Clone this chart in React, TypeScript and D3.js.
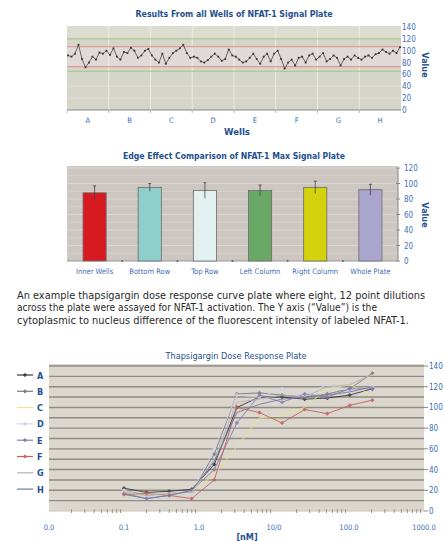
import React from "react";
import * as d3 from "d3";

// ---------- Data ----------
const wellGroups = ["A", "B", "C", "D", "E", "F", "G", "H"];
const wellValues = [
  92, 90, 95, 110, 86, 72, 80, 90, 85, 97, 95, 100,
  93, 104, 90, 85, 98, 96, 105, 100, 88, 92, 100, 103,
  92, 85, 80, 95, 78, 88, 96, 100, 104, 110, 96, 88,
  90, 88, 82, 80, 84, 90, 95, 90, 83, 86, 102, 92,
  90, 85, 80, 82, 88, 95, 86, 78, 90, 95, 82, 95,
  100, 86, 70, 80, 85, 75, 88, 90, 80, 92, 95, 85,
  90, 96, 82, 86, 92, 88, 75, 86, 90, 85, 92, 88,
  85, 90, 92, 88, 94, 96, 102, 98, 95, 100, 96, 106,
];
const topTicks = [0, 20, 40, 60, 80, 100, 120, 140];

const edgeCategories = ["Inner Wells", "Bottom Row", "Top Row", "Left Column", "Right Column", "Whole Plate"];
const edgeMeans = [88, 95, 91, 91, 95, 92];
const edgeErrors = [9, 5, 10, 7, 8, 7];
const edgeTicks = [0, 20, 40, 60, 80, 100, 120];

const doses = [0.1, 0.2, 0.4, 0.8, 1.6, 3.2, 6.4, 12.8, 25.6, 51.2, 102.4, 204.8];
const seriesNames = ["A", "B", "C", "D", "E", "F", "G", "H"];
const seriesA = [22, 18, 19, 21, 45, 100, 110, 110, 108, 109, 112, 118];
const seriesB = [20, 15, 17, 18, 55, 113, 114, 112, 110, 113, 118, 133];
const seriesC = [18, 16, 17, 19, 35, 62, 90, 92, 100, 118, 122, 112];
const seriesD = [20, 14, 16, 17, 60, 112, 110, 118, 112, 122, 116, 120];
const seriesE = [17, 12, 15, 20, 40, 85, 112, 105, 113, 110, 118, 118];
const seriesF = [16, 17, 15, 12, 30, 100, 95, 85, 98, 94, 102, 107];
const seriesG = [18, 15, 17, 18, 50, 105, 108, 112, 110, 120, 122, 132];
const seriesH = [16, 12, 15, 20, 48, 95, 103, 108, 110, 112, 115, 120];
const doseSeries = [seriesA, seriesB, seriesC, seriesD, seriesE, seriesF, seriesG, seriesH];
const doseTicks = [0.01, 0.1, 1, 10, 100, 1000];
const doseTickLabels = ["0.0", "0.1", "1.0", "10/0", "100.0", "1000.0"];
const doseYTicks = [0, 20, 40, 60, 80, 100, 120, 140];

const paragraph = [
  "An example thapsigargin dose response curve plate where eight, 12 point dilutions",
  "across the plate were assayed for NFAT-1 activation. The Y axis (\u201cValue\u201d) is the",
  "cytoplasmic to nucleus difference of the fluorescent intensity of labeled NFAT-1.",
];

// ---------- Styles ----------
const FONT = "'DejaVu Sans Condensed', 'Liberation Sans Narrow', 'Open Sans', sans-serif";
const TITLE = "#1f4f8f";
const TICK = "#3d6fb5";
const barColors = ["#d71920", "#8fcfcb", "#e4f1f1", "#6aa865", "#d4d20c", "#a9a5cc"];
const seriesColors = ["#3a3a3a", "#7c7c80", "#e8e68c", "#d6d4ea", "#8c7ab0", "#c4625c", "#b4b4b4", "#6c7ca8"];
const seriesMarker = [true, true, false, true, true, true, false, false];

export default function App() {
  // Top chart scales
  const tx = d3.scaleLinear().domain([0, wellValues.length - 1]).range([68, 400]);
  const ty = d3.scaleLinear().domain([0, 140]).range([110, 27]);
  const groupX = d3.scaleBand().domain(wellGroups).range([67, 401]);
  const topLine = d3.line<number>().x((_, i) => tx(i)).y((d) => ty(d));

  // Middle chart scales
  const bx = d3.scaleBand().domain(edgeCategories).range([67, 398]).paddingInner(0.58).paddingOuter(0.29);
  const by = d3.scaleLinear().domain([0, 120]).range([261, 168]);

  // Bottom chart scales
  const dx = d3.scaleLog().domain([0.01, 1000]).range([49, 424]);
  const dy = d3.scaleLinear().domain([0, 140]).range([511, 366]);
  const doseLine = d3.line<number>().x((_, i) => dx(doses[i])).y((d) => dy(d));

  const minorTicks: number[] = [];
  for (let e = -2; e < 3; e++) {
    for (let m = 2; m <= 9; m++) minorTicks.push(m * Math.pow(10, e));
  }

  return (
    <svg width={444} height={541} style={{ position: "absolute", left: 0, top: 0, background: "#fff" }} fontFamily={FONT}>
      {/* ===== Top chart ===== */}
      <text x={234} y={17} textAnchor="middle" fontSize={9.5} fontWeight="bold" fill={TITLE} textLength={197} lengthAdjust="spacingAndGlyphs">
        Results From all Wells of NFAT-1 Signal Plate
      </text>
      <rect x={67} y={26} width={334} height={84} fill="#d6d5ca" />
      <rect x={67} y={ty(107)} width={334} height={ty(73) - ty(107)} fill="#e0d9d8" />
      <rect x={67} y={26} width={334} height={ty(120) - 26} fill="#dcdcd0" />
      {[40, 20].map((v) => (
        <line key={v} x1={67} x2={401} y1={ty(v)} y2={ty(v)} stroke="#eadcdc" strokeWidth={1} />
      ))}
      {wellGroups.slice(1).map((g) => (
        <line key={g} x1={groupX(g)!} x2={groupX(g)!} y1={26} y2={110} stroke="#ecebe6" strokeWidth={1} />
      ))}
      {[120, 65].map((v) => (
        <line key={"g" + v} x1={67} x2={401} y1={ty(v)} y2={ty(v)} stroke="#a9c995" strokeWidth={1.2} />
      ))}
      {[107, 73].map((v) => (
        <line key={"r" + v} x1={67} x2={401} y1={ty(v)} y2={ty(v)} stroke="#e39a92" strokeWidth={1.2} />
      ))}
      <line x1={67} x2={401} y1={110} y2={110} stroke="#888" strokeWidth={1} />
      {wellGroups.map((g) => (
        <line key={"t" + g} x1={groupX(g)!} x2={groupX(g)!} y1={110} y2={113} stroke="#bbb" />
      ))}
      <path d={topLine(wellValues)!} fill="none" stroke="#55555c" strokeWidth={0.9} />
      {wellValues.map((v, i) => (
        <rect key={i} x={tx(i) - 0.9} y={ty(v) - 0.9} width={1.8} height={1.8} fill="#333338" />
      ))}
      {topTicks.map((t) => (
        <text key={t} x={402} y={ty(t) + 3} fontSize={8} fill={TICK}>
          {t}
        </text>
      ))}
      <text transform={`translate(422,65) rotate(90)`} textAnchor="middle" fontSize={9} fontWeight="bold" fill={TITLE}>
        Value
      </text>
      {wellGroups.map((g) => (
        <text key={g} x={groupX(g)! + groupX.bandwidth() / 2} y={123} textAnchor="middle" fontSize={7.5} fill={TICK}>
          {g}
        </text>
      ))}
      <text x={237} y={135} textAnchor="middle" fontSize={9.5} fontWeight="bold" fill={TITLE}>
        Wells
      </text>

      {/* ===== Middle chart ===== */}
      <text x={234} y={159} textAnchor="middle" fontSize={9.5} fontWeight="bold" fill={TITLE} textLength={222} lengthAdjust="spacingAndGlyphs">
        Edge Effect Comparison of NFAT-1 Max Signal Plate
      </text>
      <rect x={67} y={166} width={331} height={95} fill="#cdc6c1" />
      {d3.range(10, 121, 10).map((v) => (
        <line key={v} x1={67} x2={398} y1={by(v)} y2={by(v)} stroke={v % 20 === 0 ? "#ddd8d4" : "#d6d0cc"} strokeWidth={1} />
      ))}
      <line x1={67} x2={398} y1={261} y2={261} stroke="#999" />
      {edgeCategories.map((c, i) =>
        i > 0 ? <circle key={c} cx={bx(c)! - (bx.step() - bx.bandwidth()) / 2} cy={261} r={1} fill="#666" /> : null
      )}
      <line x1={398} x2={398} y1={168} y2={261} stroke="#888" />
      {edgeTicks.map((t) => (
        <g key={t}>
          <line x1={396} x2={400} y1={by(t)} y2={by(t)} stroke="#888" />
          <text x={404} y={by(t) + 3} fontSize={8} fill={TICK}>
            {t}
          </text>
        </g>
      ))}
      {edgeCategories.map((c, i) => {
        const x0 = bx(c)!;
        const cx = x0 + bx.bandwidth() / 2;
        return (
          <g key={c}>
            <rect x={x0} y={by(edgeMeans[i])} width={bx.bandwidth()} height={by(0) - by(edgeMeans[i])} fill={barColors[i]} stroke="#6b6b6b" strokeWidth={0.8} />
            <line x1={cx} x2={cx} y1={by(edgeMeans[i] + edgeErrors[i])} y2={by(edgeMeans[i] - edgeErrors[i])} stroke="#444" strokeWidth={0.8} />
            <line x1={cx - 1.5} x2={cx + 1.5} y1={by(edgeMeans[i] + edgeErrors[i])} y2={by(edgeMeans[i] + edgeErrors[i])} stroke="#444" strokeWidth={0.8} />
            <text x={cx} y={274} textAnchor="middle" fontSize={7.5} fill={TICK}>
              {c}
            </text>
          </g>
        );
      })}
      <text transform={`translate(422,215) rotate(90)`} textAnchor="middle" fontSize={9} fontWeight="bold" fill={TITLE}>
        Value
      </text>

      {/* ===== Paragraph ===== */}
      {paragraph.map((line, i) => (
        <text key={i} x={17} y={299 + i * 12.3} fontSize={10.5} fill="#2a2a2a" textLength={[408, 360, 392][i]} lengthAdjust="spacingAndGlyphs">
          {line}
        </text>
      ))}

      {/* ===== Bottom chart ===== */}
      <text x={236} y={359} textAnchor="middle" fontSize={8.5} fill={TITLE} textLength={141} lengthAdjust="spacingAndGlyphs">
        Thapsigargin Dose Response Plate
      </text>
      <rect x={49} y={364} width={375} height={147} fill="#dbd7cf" />
      {d3.range(10, 141, 10).map((v) => (
        <line key={v} x1={49} x2={424} y1={dy(v)} y2={dy(v)} stroke="#8e8b85" strokeWidth={1.4} />
      ))}
      <line x1={49} x2={424} y1={511} y2={511} stroke="#c8c4bc" />
      {minorTicks.map((m, i) => (
        <line key={i} x1={dx(m)} x2={dx(m)} y1={509} y2={513} stroke="#9a9690" />
      ))}
      {doseYTicks.map((t) => (
        <g key={t}>
          <line x1={424} x2={428} y1={dy(t)} y2={dy(t)} stroke="#888" />
          <text x={429} y={dy(t) + 3} fontSize={8} fill={TICK}>
            {t}
          </text>
        </g>
      ))}
      {doseTicks.map((t, i) => (
        <text key={t} x={dx(t)} y={530} textAnchor="middle" fontSize={7.5} fill={TICK}>
          {doseTickLabels[i]}
        </text>
      ))}
      <text x={247} y={540} textAnchor="middle" fontSize={9} fontWeight="bold" fill={TITLE}>
        [nM]
      </text>
      {doseSeries.map((s, k) => (
        <g key={k} opacity={0.9}>
          <path d={doseLine(s)!} fill="none" stroke={seriesColors[k]} strokeWidth={1} />
          {seriesMarker[k] &&
            s.map((v, i) => (
              <rect key={i} x={dx(doses[i]) - 1.5} y={dy(v) - 1.5} width={3} height={3} fill={seriesColors[k]} transform={`rotate(45 ${dx(doses[i])} ${dy(v)})`} />
            ))}
        </g>
      ))}
      {seriesNames.map((n, k) => {
        const y = 375 + k * 16.3;
        return (
          <g key={n}>
            <line x1={17} x2={33} y1={y} y2={y} stroke={seriesColors[k]} strokeWidth={1.2} />
            {seriesMarker[k] && <rect x={23.5} y={y - 1.5} width={3} height={3} fill={seriesColors[k]} transform={`rotate(45 25 ${y})`} />}
            <text x={37} y={y + 3.5} fontSize={9} fontWeight="bold" fill={TITLE}>
              {n}
            </text>
          </g>
        );
      })}
    </svg>
  );
}
